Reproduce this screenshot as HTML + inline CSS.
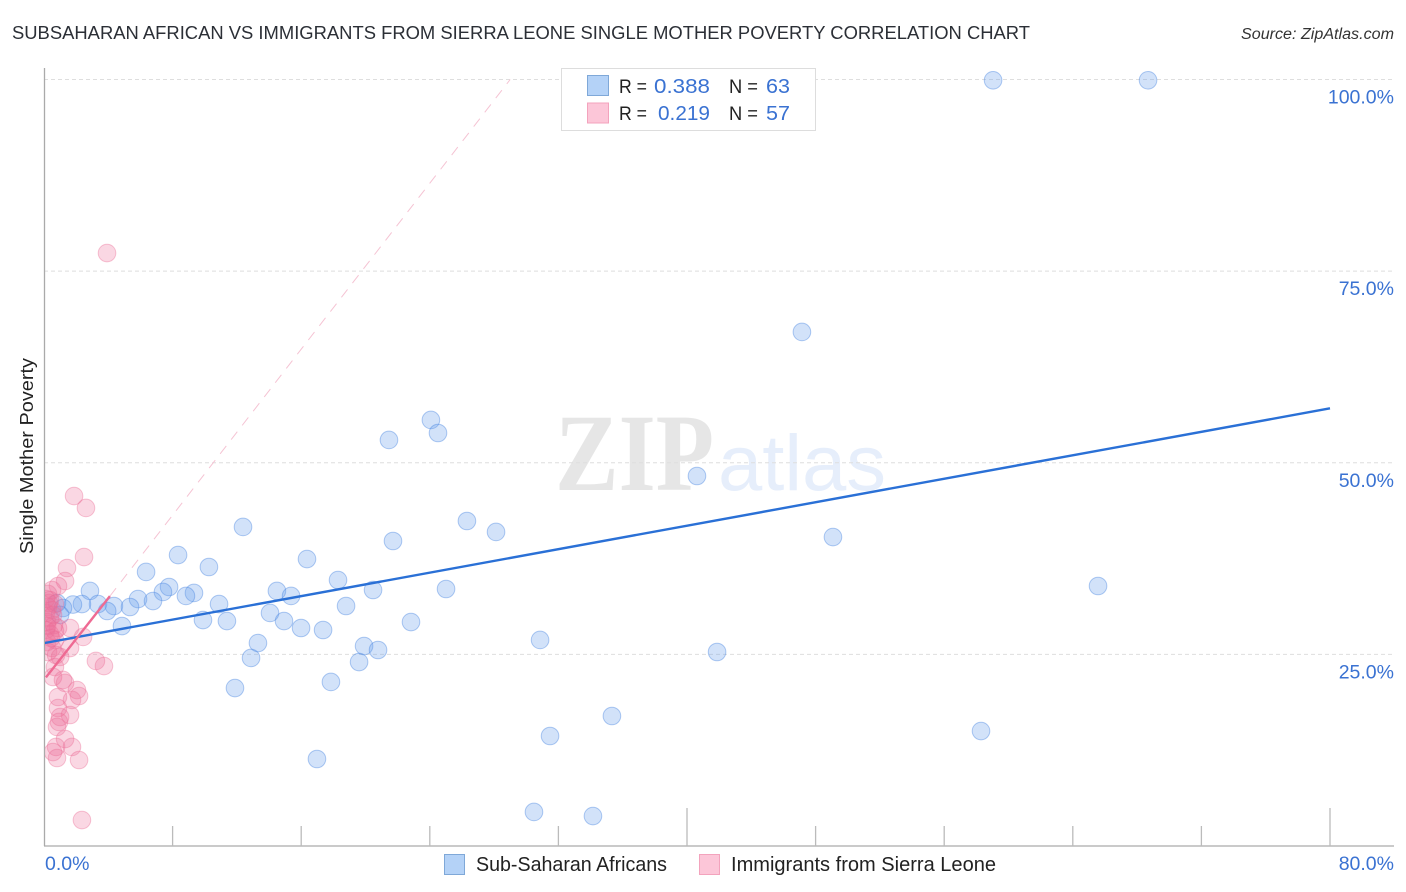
<!DOCTYPE html>
<html>
<head>
<meta charset="utf-8">
<title>Subsaharan African vs Immigrants from Sierra Leone Single Mother Poverty Correlation Chart</title>
<style>
html,body{margin:0;padding:0;background:#fff;width:1406px;height:892px;overflow:hidden}
svg{display:block;font-family:"Liberation Sans",sans-serif}
</style>
</head>
<body>
<svg id="chart" xmlns="http://www.w3.org/2000/svg" width="1406" height="892" viewBox="0 0 1406 892">
  <defs>
    <clipPath id="plot-clip"><rect x="45" y="60" width="1349" height="786"/></clipPath>
  </defs>
  <rect width="1406" height="892" fill="#ffffff"/>
  <text x="12" y="39" font-size="18.5" fill="#2b2f36" textLength="1018" lengthAdjust="spacingAndGlyphs">SUBSAHARAN AFRICAN VS IMMIGRANTS FROM SIERRA LEONE SINGLE MOTHER POVERTY CORRELATION CHART</text>
  <text x="1241" y="39" font-size="15.5" font-style="italic" fill="#333" textLength="153" lengthAdjust="spacingAndGlyphs">Source: ZipAtlas.com</text>

  <g>
    <text x="555" y="490" font-family="'Liberation Serif',serif" font-weight="bold" font-size="110" fill="#e6e6e6" textLength="159" lengthAdjust="spacingAndGlyphs">ZIP</text>
    <text x="718" y="490" font-size="79" fill="#e6eefb" textLength="168" lengthAdjust="spacingAndGlyphs">atlas</text>
  </g>

  <g id="grid"></g>
  <g id="axes"></g>
  <g id="marks" clip-path="url(#plot-clip)"></g>
  <g id="labels"></g>

  <text transform="translate(33,456) rotate(-90)" text-anchor="middle" font-size="18.5" fill="#222" textLength="196" lengthAdjust="spacingAndGlyphs">Single Mother Poverty</text>

  <g>
    <rect x="561.5" y="68.5" width="254" height="62" fill="#ffffff" stroke="#dddddd"/>
    <rect x="587.5" y="75.5" width="21" height="20" fill="#b4d2f7" stroke="#7fa8d8"/>
    <rect x="587.5" y="103" width="21" height="20" fill="#fcc6d8" stroke="#f3a3bd"/>
    <text x="619" y="93" font-size="19.5" fill="#222" textLength="28" lengthAdjust="spacingAndGlyphs">R =</text>
    <text x="654" y="93" font-size="20.5" fill="#3a72d2" textLength="56" lengthAdjust="spacingAndGlyphs">0.388</text>
    <text x="729" y="93" font-size="19.5" fill="#222" textLength="29" lengthAdjust="spacingAndGlyphs">N =</text>
    <text x="766" y="93" font-size="20.5" fill="#3a72d2" textLength="24" lengthAdjust="spacingAndGlyphs">63</text>
    <text x="619" y="120" font-size="19.5" fill="#222" textLength="28" lengthAdjust="spacingAndGlyphs">R =</text>
    <text x="658" y="120" font-size="20.5" fill="#3a72d2" textLength="52" lengthAdjust="spacingAndGlyphs">0.219</text>
    <text x="729" y="120" font-size="19.5" fill="#222" textLength="29" lengthAdjust="spacingAndGlyphs">N =</text>
    <text x="766" y="120" font-size="20.5" fill="#3a72d2" textLength="24" lengthAdjust="spacingAndGlyphs">57</text>
  </g>

  <g>
    <rect x="444.5" y="854.5" width="20" height="20" fill="#b4d2f7" stroke="#7fa8d8"/>
    <text x="476" y="871" font-size="20" fill="#222" textLength="191" lengthAdjust="spacingAndGlyphs">Sub-Saharan Africans</text>
    <rect x="699.5" y="854.5" width="20" height="20" fill="#fcc6d8" stroke="#f3a3bd"/>
    <text x="731" y="871" font-size="20" fill="#222" textLength="265" lengthAdjust="spacingAndGlyphs">Immigrants from Sierra Leone</text>
  </g>
</svg>
<script>
// Chart data (percent units)
var yTickValues = [25, 50, 75, 100];
var yTickLabels = ["25.0%", "50.0%", "75.0%", "100.0%"];
var xTickValues = [0, 8, 16, 24, 32, 40, 48, 56, 64, 72, 80];
var xMajorTicks = [40, 80];
var xEndValues = [0, 80];
var xEndLabels = ["0.0%", "80.0%"];

var blueX = [59.04,68.68,47.15,24.07,24.51,21.46,40.62,26.31,12.38,28.12,49.08,21.71,8.34,16.36,10.26,6.35,18.29,65.57,2.86,14.49,7.78,7.40,20.47,25.01,9.33,8.83,15.37,5.85,6.78,10.89,3.36,4.35,5.35,3.93,18.79,14.06,9.89,11.38,14.93,22.83,4.85,15.99,17.36,30.86,13.31,19.91,20.78,41.87,12.88,19.60,17.85,11.88,35.33,58.29,31.48,16.98,30.48,34.15,2.36,1.80,0.81,1.18,1.00];
var blueY = [99.9,99.9,67.06,55.58,53.88,52.97,48.27,42.40,41.62,40.97,40.31,39.79,37.96,37.44,36.40,35.75,34.70,33.92,33.27,33.27,33.79,33.14,33.40,33.53,33.01,32.62,32.62,32.22,31.96,31.57,31.57,31.31,31.18,30.66,31.31,30.40,29.48,29.35,29.35,29.22,28.70,28.44,28.18,26.88,26.48,26.09,25.57,25.31,24.53,24.00,21.40,20.61,16.96,15.00,14.35,11.35,4.44,3.91,31.57,31.50,31.70,31.05,30.14];

var pinkX = [3.92,1.87,2.61,2.49,1.43,1.31,0.87,0.50,0.25,0.37,0.68,0.25,0.50,0.12,0.37,0.19,0.62,0.87,0.12,0.37,0.68,0.19,0.50,0.25,0.75,1.62,2.43,1.62,1.00,3.23,3.73,0.68,0.56,1.18,1.31,2.05,2.18,1.74,0.87,0.87,1.62,1.00,0.93,0.81,1.31,1.74,0.75,0.56,0.81,2.18,2.36,0.31,0.56,0.19,0.44,0.12,0.68];
var pinkY = [77.36,45.66,44.10,37.70,36.27,34.57,33.92,33.40,32.88,32.09,31.57,31.18,30.79,30.40,29.75,29.22,28.83,28.44,28.18,27.66,26.88,26.61,25.83,25.31,24.92,28.44,27.27,25.83,24.66,24.14,23.48,23.35,22.05,21.66,21.27,20.35,19.57,19.05,19.44,18.00,17.09,16.83,16.18,15.53,13.96,12.92,12.92,12.26,11.48,11.22,3.39,31.70,30.14,28.70,27.14,32.22,28.05];

var blueTrendX = [0, 80];
var blueTrendY = [26.47, 57.1];
var pinkTrendX = [0.12, 4.1];
var pinkTrendY = [22.0, 32.6];
var pinkDashX = [4.1, 29.0];
var pinkDashY = [32.6, 100.0];

// Axis functions
function xScale(v) { return 44 + v * 16.075; }
function yScale(v) { return 846 - v * 7.665; }

var NS = "http://www.w3.org/2000/svg";
function make(tag, attrs, parent) {
  var el = document.createElementNS(NS, tag);
  for (var k in attrs) el.setAttribute(k, attrs[k]);
  parent.appendChild(el);
  return el;
}
var grid = document.getElementById("grid");
var axes = document.getElementById("axes");
var marks = document.getElementById("marks");
var labels = document.getElementById("labels");

yTickValues.forEach(function (v) {
  var el = make("line", {x1: 44, x2: 1394, y1: yScale(v), y2: yScale(v), stroke: "#dedede", "stroke-width": 1, "stroke-dasharray": "4 3"}, grid);
  
  
});

var yAxisLine = make("line", {x1: 44.5, x2: 44.5, y1: 68, y2: 846, stroke: "#aaaaaa", "stroke-width": 1.3}, axes);


var xAxisLine = make("line", {x1: 44, x2: 1394, y1: 846, y2: 846, stroke: "#aaaaaa", "stroke-width": 1.3}, axes);


xTickValues.forEach(function (v) {
  if (v === 0) return;
  var major = xMajorTicks.indexOf(v) >= 0;
  var t = make("line", {x1: xScale(v), x2: xScale(v), y1: major ? 808 : 826, y2: 846, stroke: "#bbbbbb", "stroke-width": 1.3}, axes);
  
  
});

function drawPoints(xs, ys, fill, stroke, name) {
  xs.forEach(function (x, i) {
    var c = make("circle", {cx: xScale(x), cy: yScale(ys[i]), r: 8.8, fill: fill, stroke: stroke, "stroke-width": 1}, marks);
    
    
  });
}
drawPoints(blueX, blueY, "rgba(105,160,235,0.3)", "rgba(70,130,225,0.42)", "point-sub-saharan-africans");
drawPoints(pinkX, pinkY, "rgba(238,110,155,0.28)", "rgba(235,110,150,0.4)", "point-immigrants-from-sierra-leone");

var dash = make("line", {x1: xScale(pinkDashX[0]), y1: yScale(pinkDashY[0]), x2: xScale(pinkDashX[1]), y2: yScale(pinkDashY[1]), stroke: "#f5c3d3", "stroke-width": 1, "stroke-dasharray": "10 8"}, marks);


var blueLine = make("line", {x1: xScale(blueTrendX[0]), y1: yScale(blueTrendY[0]), x2: xScale(blueTrendX[1]), y2: yScale(blueTrendY[1]), stroke: "#2a70d6", "stroke-width": 2.4}, marks);


var pinkLine = make("line", {x1: xScale(pinkTrendX[0]), y1: yScale(pinkTrendY[0]), x2: xScale(pinkTrendX[1]), y2: yScale(pinkTrendY[1]), stroke: "#ee6a93", "stroke-width": 2.4}, marks);



yTickValues.forEach(function (v, i) {
  var t = make("text", {x: 1394, y: yScale(v) + 24, "text-anchor": "end", "font-size": 19.5, fill: "#3a72d2"}, labels);
  t.textContent = yTickLabels[i];
  
  
});
xEndValues.forEach(function (v, i) {
  var t = make("text", {x: v === 0 ? 45 : 1394, y: 870, "text-anchor": v === 0 ? "start" : "end", "font-size": 19.5, fill: "#3a72d2"}, labels);
  t.textContent = xEndLabels[i];
  
  
});
</script>
</body>
</html>
